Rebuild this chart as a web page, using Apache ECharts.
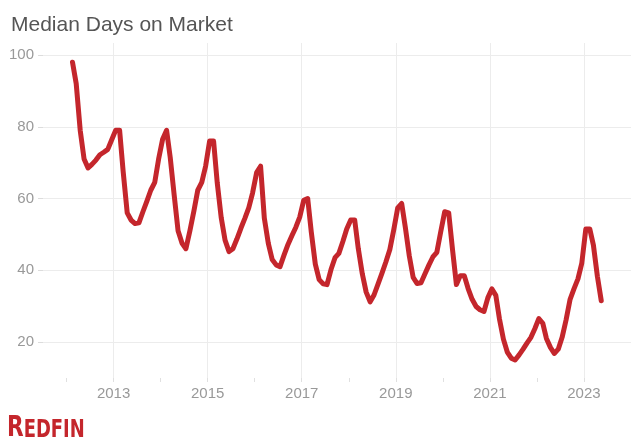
<!DOCTYPE html>
<html><head><meta charset="utf-8">
<script src="https://cdn.jsdelivr.net/npm/echarts@6/dist/echarts.min.js"></script>
<style>html,body{margin:0;padding:0;background:#fff}#c{width:631px;height:448px}</style>
</head><body><div id="c"></div>
<script>
const titleText = 'Median Days on Market';
const logoText = ['R', 'EDFIN'];
const firstMonth = [2012, 2];           // Feb 2012
const axisStart = [2011, 7];            // axis range start (Jul 2011)
const axisEnd = [2024, 1];              // axis range end (Jan 2024)
const yearLabels = ['2013', '2015', '2017', '2019', '2021', '2023'];
const yTicks = [20, 40, 60, 80, 100];

// Feb 2012 .. May 2023 (monthly)
const v2012 = [98, 92, 79, 71, 68.5, 69.5, 70.7, 72.2, 72.9, 73.7, 76.3];
const v2013 = [79, 79, 67.4, 56, 54, 53, 53.2, 56.3, 59.3, 62.3, 64.5, 71];
const v2014 = [76.5, 79, 71.5, 60.9, 51, 47.5, 46, 51, 56.5, 62.3, 64.5, 69];
const v2015 = [76, 76, 64.5, 54.7, 48.4, 45.2, 46, 48.7, 51.7, 54.4, 57.4, 61.6];
const v2016 = [67.2, 69, 54.5, 47.5, 43, 41.5, 41, 44.2, 47.2, 49.6, 52, 54.8];
const v2017 = [59.5, 60, 50.6, 41.7, 37.4, 36.2, 36, 40.2, 43.5, 44.7, 48, 51.5];
const v2018 = [54, 54, 46, 39, 33.9, 31.2, 33.1, 36.1, 39.2, 42.3, 45.8, 51.2];
const v2019 = [57.4, 58.6, 52, 44, 38, 36.3, 36.5, 39, 41.5, 43.7, 45, 50.7];
const v2020 = [56.3, 56, 46, 36, 38.5, 38.5, 34.9, 31.9, 29.9, 29, 28.5, 32.3];
const v2021 = [34.8, 33, 26.5, 20.8, 17.2, 15.5, 15, 16.4, 18, 19.7, 21.3, 23.7];
const v2022 = [26.5, 25.2, 21, 18.5, 16.8, 18, 21.3, 26.2, 31.9, 34.8, 37.6, 42];
const v2023 = [51.5, 51.5, 47, 38.3, 31.5];
const daysOnMarket = [].concat(v2012, v2013, v2014, v2015, v2016, v2017, v2018, v2019, v2020, v2021, v2022, v2023);

function pad(n) { return (n < 10 ? '0' : '') + n; }
function monthList(start, end) {
  const out = []; let y = start[0], m = start[1];
  while (y < end[0] || (y === end[0] && m <= end[1])) {
    out.push(y + '-' + pad(m)); m++; if (m > 12) { m = 1; y++; }
  }
  return out;
}
const axisMonths = monthList(axisStart, axisEnd);
const dataMonths = [];
{
  let y = firstMonth[0], m = firstMonth[1];
  for (let i = 0; i < daysOnMarket.length; i++) {
    dataMonths.push(y + '-' + pad(m)); m++; if (m > 12) { m = 1; y++; }
  }
}
const seriesData = dataMonths.map((mo, i) => [mo + '-15', daysOnMarket[i]]);

const isJan = (idx, val) => val.slice(5) === '01';
const isLabelYear = (idx, val) => isJan(idx, val) && yearLabels.indexOf(val.slice(0, 4)) >= 0;

const font = 'Liberation Sans, Arial, sans-serif';
const logoFont = 'Liberation Sans Narrow, Arial Narrow, DejaVu Sans Condensed, sans-serif';
const chart = echarts.init(document.getElementById('c'), null, { renderer: 'canvas' });
chart.setOption({
  animation: false,
  backgroundColor: '#fff',
  title: {
    text: titleText, left: 6, top: 10,
    textStyle: { fontSize: 21, fontWeight: 'normal', color: '#555', fontFamily: font }
  },
  grid: [
    { left: 43, right: 0, top: 43, bottom: 70 },
    { left: 43, right: 0, top: 55, bottom: 106 }
  ],
  xAxis: [
    {
      gridIndex: 0, type: 'category', data: axisMonths, boundaryGap: false,
      axisLine: { show: false },
      axisTick: { show: true, interval: isJan, length: 4, lineStyle: { color: '#e0e0e0' } },
      axisLabel: { interval: isLabelYear, formatter: v => v.slice(0, 4), color: '#999', fontSize: 15, fontFamily: font, margin: 8 },
      splitLine: { show: true, interval: isLabelYear, lineStyle: { color: '#ececec', width: 1 } }
    },
    {
      gridIndex: 1, type: 'time', show: false,
      min: axisMonths[0] + '-01', max: axisMonths[axisMonths.length - 1] + '-01',
      splitLine: { show: false }
    }
  ],
  yAxis: [
    { gridIndex: 0, type: 'value', show: false, min: 0, max: 1, splitLine: { show: false } },
    {
      gridIndex: 1, type: 'value', min: yTicks[0], max: yTicks[yTicks.length - 1], interval: yTicks[1] - yTicks[0],
      axisLine: { show: false },
      axisTick: { show: true, length: 5, lineStyle: { color: '#dcdcdc' } },
      axisLabel: { color: '#999', fontSize: 15, fontFamily: font, margin: 9 },
      splitLine: { show: true, lineStyle: { color: '#ececec', width: 1 } }
    }
  ],
  series: [{
    type: 'line', xAxisIndex: 1, yAxisIndex: 1, data: seriesData,
    showSymbol: false, symbol: 'none', clip: false, smooth: false,
    lineStyle: { color: '#c4262c', width: 5, cap: 'round', join: 'round' },
    z: 5
  }],
  graphic: [{
    type: 'text', x: 7, y: 413, scaleX: 0.83, scaleY: 1,
    style: {
      text: '{a|' + logoText[0] + '}{b|' + logoText[1] + '}',
      rich: {
        a: { fontSize: 29, fontWeight: 'bold', fontFamily: logoFont, fill: '#c4262c', verticalAlign: 'bottom', lineHeight: 30 },
        b: { fontSize: 24, fontWeight: 'bold', fontFamily: logoFont, fill: '#c4262c', verticalAlign: 'bottom', lineHeight: 30 }
      }
    }
  }]
});
</script>
</body></html>
